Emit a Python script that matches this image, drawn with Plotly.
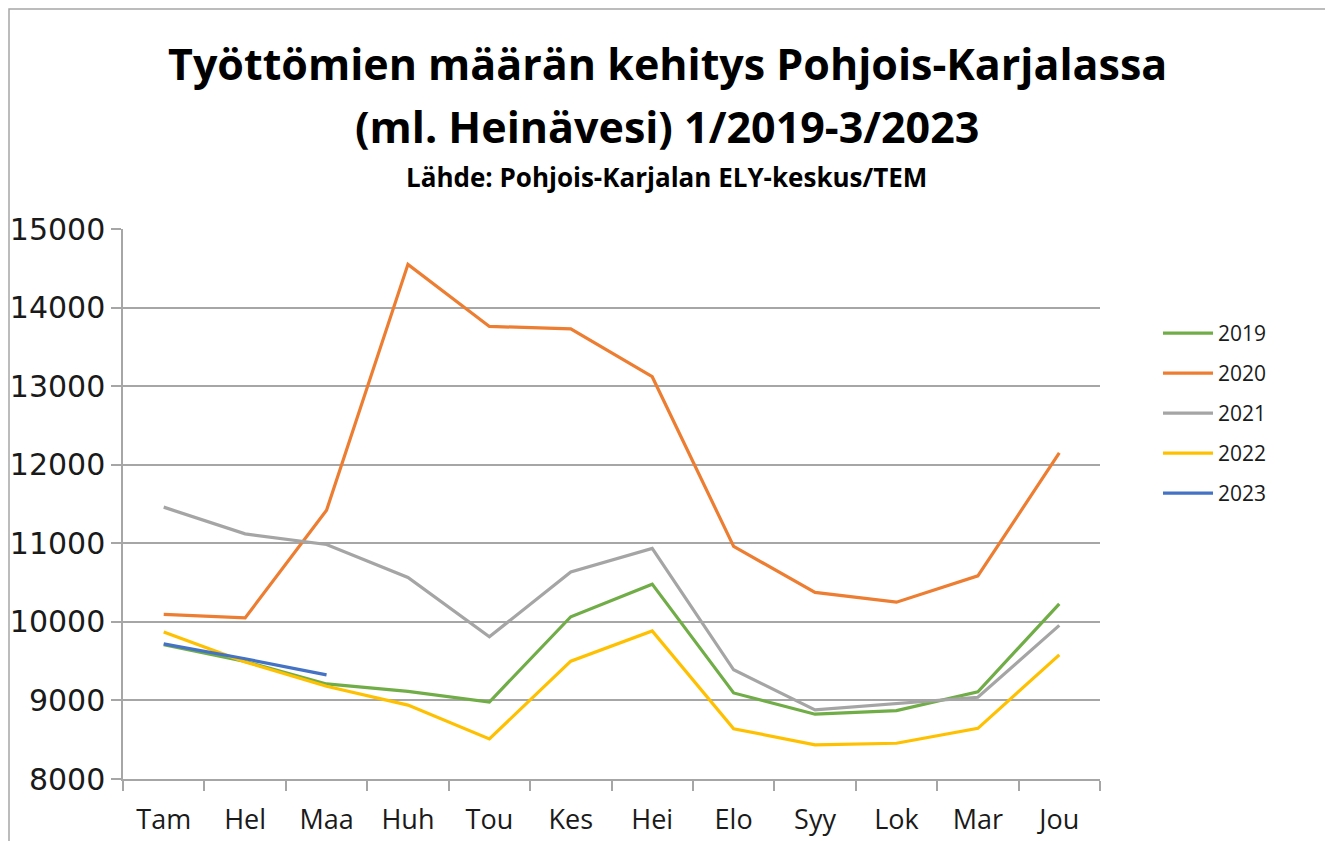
import plotly.graph_objects as go

months = ["Tam", "Hel", "Maa", "Huh", "Tou", "Kes", "Hei", "Elo", "Syy", "Lok", "Mar", "Jou"]
years = ["2019", "2020", "2021", "2022", "2023"]
v2019 = [9710, 9495, 9210, 9115, 8980, 10065, 10480, 9095, 8825, 8870, 9110, 10230]
v2020 = [10095, 10050, 11420, 14550, 13760, 13730, 13120, 10960, 10375, 10250, 10585, 12150]
v2021 = [11460, 11120, 10985, 10565, 9810, 10635, 10935, 9390, 8880, 8955, 9040, 9955]
v2022 = [9870, 9490, 9180, 8940, 8510, 9500, 9885, 8640, 8435, 8455, 8645, 9580]
v2023 = [9720, 9530, 9325]
series = [v2019, v2020, v2021, v2022, v2023]
colors = ["#70ad47", "#ed7d31", "#a5a5a5", "#ffc000", "#4472c4"]

OFF = 8  # default page body margin
W, H = 1333 - OFF, 841 - OFF
L, R, T, B = 123, 1100, 229, 779  # plot area in page pixels


def px(x):
    return (x - L) / (R - L)


def py(y):
    return (B - y) / (B - T)


fig = go.Figure()
for name, vals, col in zip(years, series, colors):
    fig.add_trace(go.Scatter(
        x=months[:len(vals)], y=vals, name=name, mode="lines",
        line=dict(color=col, width=3.2), legendgroup=name,
    ))

font_main = "Open Sans, DejaVu Sans, sans-serif"

fig.update_layout(
    width=W, height=H, autosize=False,
    margin=dict(l=L - OFF, r=1333 - R, t=T - OFF, b=841 - B, pad=0, autoexpand=False),
    paper_bgcolor="white", plot_bgcolor="white",
    showlegend=True,
    legend=dict(x=px(1158), y=py(313), xanchor="left", yanchor="top",
                font=dict(family=font_main, size=21, color="#1a1a1a"),
                tracegroupgap=9.7, itemwidth=50, bgcolor="rgba(0,0,0,0)"),
    xaxis=dict(
        type="category", categoryorder="array", categoryarray=months,
        range=[-0.5, 11.5], tickson="boundaries", ticks="outside", ticklen=10,
        tickcolor="#a6a6a6", tickwidth=1.5, showline=True, linecolor="#a6a6a6",
        linewidth=1.5, showgrid=False, zeroline=False, ticklabelstandoff=16,
        automargin=False,
        tickfont=dict(family=font_main, size=27, color="#1a1a1a"),
    ),
    yaxis=dict(
        range=[8000, 15000], dtick=1000, tick0=8000, ticks="outside", ticklen=10,
        tickcolor="#a6a6a6", tickwidth=1.5, showline=True, linecolor="#a6a6a6",
        linewidth=1.5, showgrid=True, gridcolor="#a6a6a6", gridwidth=1.5,
        zeroline=False, tickformat="d", automargin=False,
        tickfont=dict(family="DejaVu Sans, sans-serif", size=30, color="#1a1a1a"),
    ),
)

fig.add_annotation(text="<b>Työttömien määrän kehitys Pohjois-Karjalassa</b>",
                   x=px(667), y=py(64), xref="paper", yref="paper",
                   showarrow=False, xanchor="center", yanchor="middle",
                   font=dict(family=font_main, size=43, color="black"))
fig.add_annotation(text="<b>(ml. Heinävesi) 1/2019-3/2023</b>",
                   x=px(667), y=py(126), xref="paper", yref="paper",
                   showarrow=False, xanchor="center", yanchor="middle",
                   font=dict(family=font_main, size=43, color="black"))
fig.add_annotation(text="<b>Lähde: Pohjois-Karjalan ELY-keskus/TEM</b>",
                   x=px(666), y=py(177), xref="paper", yref="paper",
                   showarrow=False, xanchor="center", yanchor="middle",
                   font=dict(family=font_main, size=26, color="black"))

fig.add_shape(type="rect", xref="paper", yref="paper",
              x0=px(OFF + 1), x1=px(1326), y0=py(900), y1=py(OFF + 1),
              line=dict(color="#a6a6a6", width=1.5), fillcolor="rgba(0,0,0,0)",
              layer="below")

fig.write_html("out.html")
